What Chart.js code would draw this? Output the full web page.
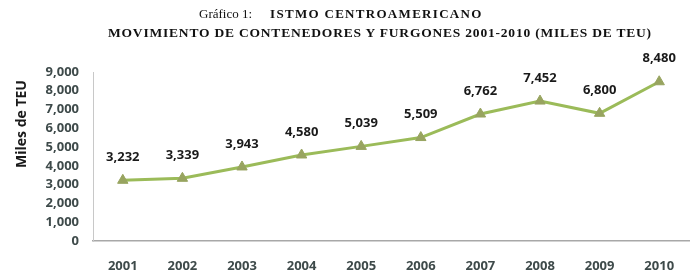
<!DOCTYPE html>
<html>
<head>
<meta charset="utf-8">
<script src="https://cdn.jsdelivr.net/npm/chart.js@4.4.0/dist/chart.umd.min.js"></script>
<style>
    html, body { margin: 0; padding: 0; background: #ffffff; }
    #wrap { position: relative; width: 696px; height: 276px; }
    #chart { position: absolute; left: 0; top: 0; }
    .title { position: absolute; font-family: "Liberation Serif", "DejaVu Serif", serif; color: #111; white-space: nowrap; }
    #t1 { left: 199px; top: 6px; font-size: 13px; }
    #t1 b { letter-spacing: 1.3px; margin-left: 18px; }
    #t2 { left: 108px; top: 25px; font-size: 13.5px; font-weight: bold; letter-spacing: 0.8px; }
</style>
</head>
<body>
<div id="wrap">
    <canvas id="chart" width="696" height="276"></canvas>
    <div class="title" id="t1">Gráfico 1:<b>ISTMO CENTROAMERICANO</b></div>
    <div class="title" id="t2">MOVIMIENTO DE CONTENEDORES Y FURGONES 2001-2010 (MILES DE TEU)</div>
</div>
<script>
// Data
const years = ['2001', '2002', '2003', '2004', '2005', '2006', '2007', '2008', '2009', '2010'];
const teu = [3232, 3339, 3943, 4580, 5039, 5509, 6762, 7452, 6800, 8480];
const yTicks = [0, 1000, 2000, 3000, 4000, 5000, 6000, 7000, 8000, 9000];

const tickColor = '#3e4a4a';
const lineColor = '#9bbb59';
const markerColor = '#98a460';
const fmt = v => new Intl.NumberFormat('en-US').format(v);

/**
 * Draw value labels above each point, plus the y axis title
 */
const valueLabels = {
    id: 'valueLabels',
    afterDatasetsDraw(chart) {
        const ctx = chart.ctx;
        const meta = chart.getDatasetMeta(0);
        ctx.save();
        ctx.font = 'bold 13px "Open Sans", sans-serif';
        ctx.fillStyle = '#1a1a1a';
        ctx.textAlign = 'center';
        ctx.textBaseline = 'middle';
        meta.data.forEach((pt, i) => {
            ctx.fillText(fmt(teu[i]), pt.x, pt.y - 23);
        });

        // y axis title
        ctx.translate(22, 124);
        ctx.rotate(-Math.PI / 2);
        ctx.font = 'bold 14px "Open Sans", sans-serif';
        ctx.fillText('Miles de TEU', 0, 0);
        ctx.restore();
    }
};

new Chart(document.getElementById('chart'), {
    type: 'line',
    data: {
        labels: years,
        datasets: [{
            data: teu,
            borderColor: lineColor,
            borderWidth: 3,
            tension: 0,
            pointStyle: 'triangle',
            pointRadius: 6,
            pointBackgroundColor: markerColor,
            pointBorderColor: markerColor,
            pointBorderWidth: 1,
        }]
    },
    options: {
        responsive: false,
        animation: false,
        layout: {
            padding: { top: 72, right: 3, left: 0, bottom: 0 }
        },
        plugins: {
            legend: { display: false },
            tooltip: { enabled: false }
        },
        scales: {
            x: {
                offset: true,
                grid: { display: false, drawTicks: false },
                border: { display: true, color: '#a8a8a8', width: 1.5 },
                ticks: {
                    color: tickColor,
                    padding: 17,
                    font: { family: '"Open Sans", sans-serif', size: 13, weight: 'bold' }
                },
                afterFit(scale) { scale.height = 35; }
            },
            y: {
                min: 0,
                max: 9000,
                afterBuildTicks(scale) {
                    scale.ticks = yTicks.map(v => ({ value: v }));
                },
                grid: { display: false, drawTicks: false },
                border: { display: true, color: '#c8c8c8', width: 1 },
                ticks: {
                    color: tickColor,
                    padding: 14,
                    font: { family: '"Open Sans", sans-serif', size: 13, weight: 'bold' },
                    callback: v => fmt(v)
                },
                afterFit(scale) { scale.width = 93; }
            }
        }
    },
    plugins: [valueLabels]
});
</script>
</body>
</html>
